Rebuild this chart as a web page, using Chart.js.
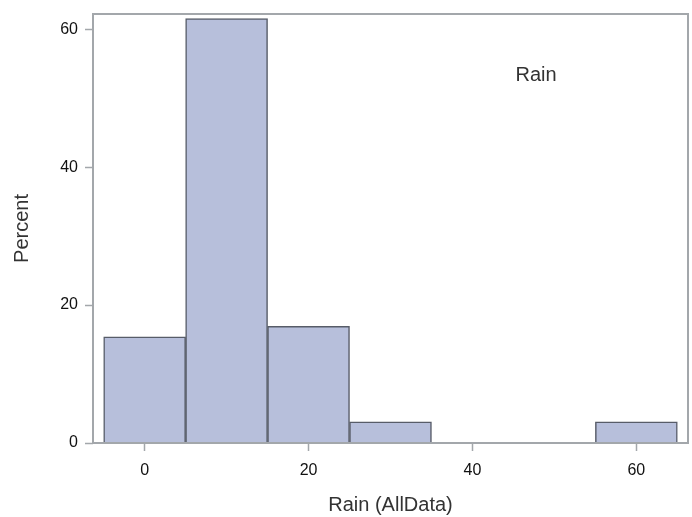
<!DOCTYPE html>
<html>
<head>
<meta charset="utf-8">
<script src="https://cdn.jsdelivr.net/npm/chart.js@4"></script>
<style>
  html, body { margin: 0; padding: 0; background: #fff; }
  #wrap { width: 692px; height: 517px; }
</style>
</head>
<body>
<div id="wrap"><canvas id="histo"></canvas></div>
<script>
// bin midpoints and percent per bin (65 obs)
const binMids = [0, 10, 20, 30, 40, 50, 60];
const percents = [15.38, 61.54, 16.92, 3.08, 0, 0, 3.08];
const yTicks = [0, 20, 40, 60];
const xTicks = [0, 20, 40, 60];

const frameColor = '#a3a7ab';
const barFill = '#b7bfdb';
const barEdge = '#575c68';
const fontFam = "'Liberation Sans', Arial, Helvetica, sans-serif";

// frame round the plot + inset label
const framePlugin = {
  id: 'frame',
  afterDraw(chart) {
    const { ctx, chartArea: a } = chart;
    ctx.save();
    ctx.strokeStyle = frameColor;
    ctx.lineWidth = 2;
    ctx.strokeRect(a.left, a.top, a.right - a.left, a.bottom - a.top);
    ctx.fillStyle = '#333';
    ctx.font = '20px ' + fontFam;
    ctx.textAlign = 'center';
    ctx.textBaseline = 'middle';
    ctx.fillText('Rain', a.left + 443, a.top + 61);
    ctx.restore();
  }
};

const ctx = document.getElementById('histo').getContext('2d');
new Chart(ctx, {
  type: 'bar',
  data: {
    datasets: [{
      label: 'Rain',
      data: binMids.map((m, i) => ({ x: m, y: percents[i] })),
      backgroundColor: barFill,
      borderColor: barEdge,
      borderWidth: 1.5,
      barPercentage: 1,
      categoryPercentage: 1
    }]
  },
  options: {
    responsive: true,
    maintainAspectRatio: false,
    animation: false,
    layout: { padding: { top: 14, right: 4, left: 0, bottom: 0 } },
    plugins: { legend: { display: false }, tooltip: { enabled: false } },
    scales: {
      x: {
        type: 'linear',
        min: -6.3,
        max: 66.3,
        offset: false,
        afterBuildTicks: s => { s.ticks = xTicks.map(v => ({ value: v })); },
        afterFit: s => { s.height = 74; },
        grid: { offset: false, drawOnChartArea: false, tickLength: 8, tickColor: frameColor, tickWidth: 1.5 },
        border: { display: false },
        ticks: { color: '#111', font: { family: fontFam, size: 16 }, padding: 10 },
        title: { display: true, text: 'Rain (AllData)', color: '#333', font: { family: fontFam, size: 20 }, padding: { top: 6, bottom: 0 } }
      },
      y: {
        min: 0,
        max: 62.2,
        afterBuildTicks: s => { s.ticks = yTicks.map(v => ({ value: v })); },
        afterFit: s => { s.width = 93; s.paddingTop = 0; s.paddingBottom = 0; },
        grid: { drawOnChartArea: false, tickLength: 8, tickColor: frameColor, tickWidth: 1.5 },
        border: { display: false },
        ticks: { color: '#111', font: { family: fontFam, size: 16 }, padding: 7 },
        title: { display: true, text: 'Percent', color: '#333', font: { family: fontFam, size: 20 }, padding: { top: 10, bottom: 6 } }
      }
    }
  },
  plugins: [framePlugin]
});
</script>
</body>
</html>
